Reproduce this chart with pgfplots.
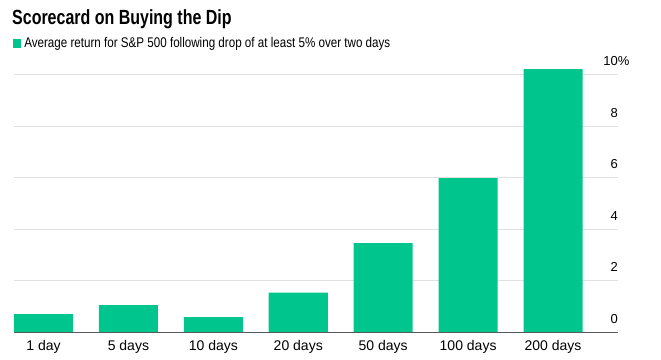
\documentclass[border=0pt]{standalone}
\usepackage{fontspec}
\setmainfont{Liberation Sans}
\usepackage{pgfplots}
\pgfplotsset{compat=1.18}
\definecolor{bargreen}{RGB}{0,197,140}
\definecolor{gridgray}{RGB}{224,224,224}
\definecolor{basegray}{RGB}{90,90,90}
\begin{document}
\begin{tikzpicture}
\path[use as bounding box] (0pt,0pt) rectangle (661pt,359pt);
\begin{axis}[
  at={(14pt,27pt)}, anchor=south west,
  scale only axis, width=604pt, height=270pt,
  xmin=-0.347, xmax=6.765, ymin=0, ymax=10.5,
  enlargelimits=false,
  axis line style={draw=none},
  tick style={draw=none},
  ymajorgrids, grid style={gridgray, line width=0.8pt},
  ytick pos=right,
  ytick={0,2,4,6,8,10},
  yticklabels={0,2,4,6,8,10\rlap{\%}},
  /pgf/number format/assume math mode=true,
  yticklabel style={anchor=base east, inner sep=0pt, yshift=9pt, xshift=0pt, font=\fontsize{13}{15}\selectfont},
  xtick={0,1,2,3,4,5,6},
  xticklabels={1 day,5 days,10 days,20 days,50 days,100 days,200 days},
  xticklabel style={anchor=north, inner sep=0pt, yshift=-8pt, font=\fontsize{14}{16}\selectfont},
  clip=false,
  legend style={at={(-0.002,1.0685)}, anchor=west, draw=none, fill=none, inner sep=0pt,
    font=\fontsize{14}{16}\selectfont, nodes={inner xsep=2.8pt}},
  legend cell align=left,
  legend image code/.code={\fill[#1] (0pt,-4.5pt) rectangle (8.5pt,4.5pt);},
]
\addplot[ybar, bar width=0.695, fill=bargreen, draw=none, bar shift=0pt]
  coordinates {(0,0.70) (1,1.05) (2,0.58) (3,1.53) (4,3.46) (5,5.98) (6,10.22)};
\addlegendentry{\scalebox{0.83}[1]{Average return for S\&P 500 following drop of at least 5\% over two days}}
\draw[basegray, line width=1pt] (rel axis cs:0,0) -- (rel axis cs:1,0);
\end{axis}
\node[anchor=base west, inner sep=0pt, font=\fontsize{20.5}{24}\selectfont\bfseries] at (12pt,334pt) {\scalebox{0.78}[1]{Scorecard on Buying the Dip}};
\end{tikzpicture}
\end{document}
